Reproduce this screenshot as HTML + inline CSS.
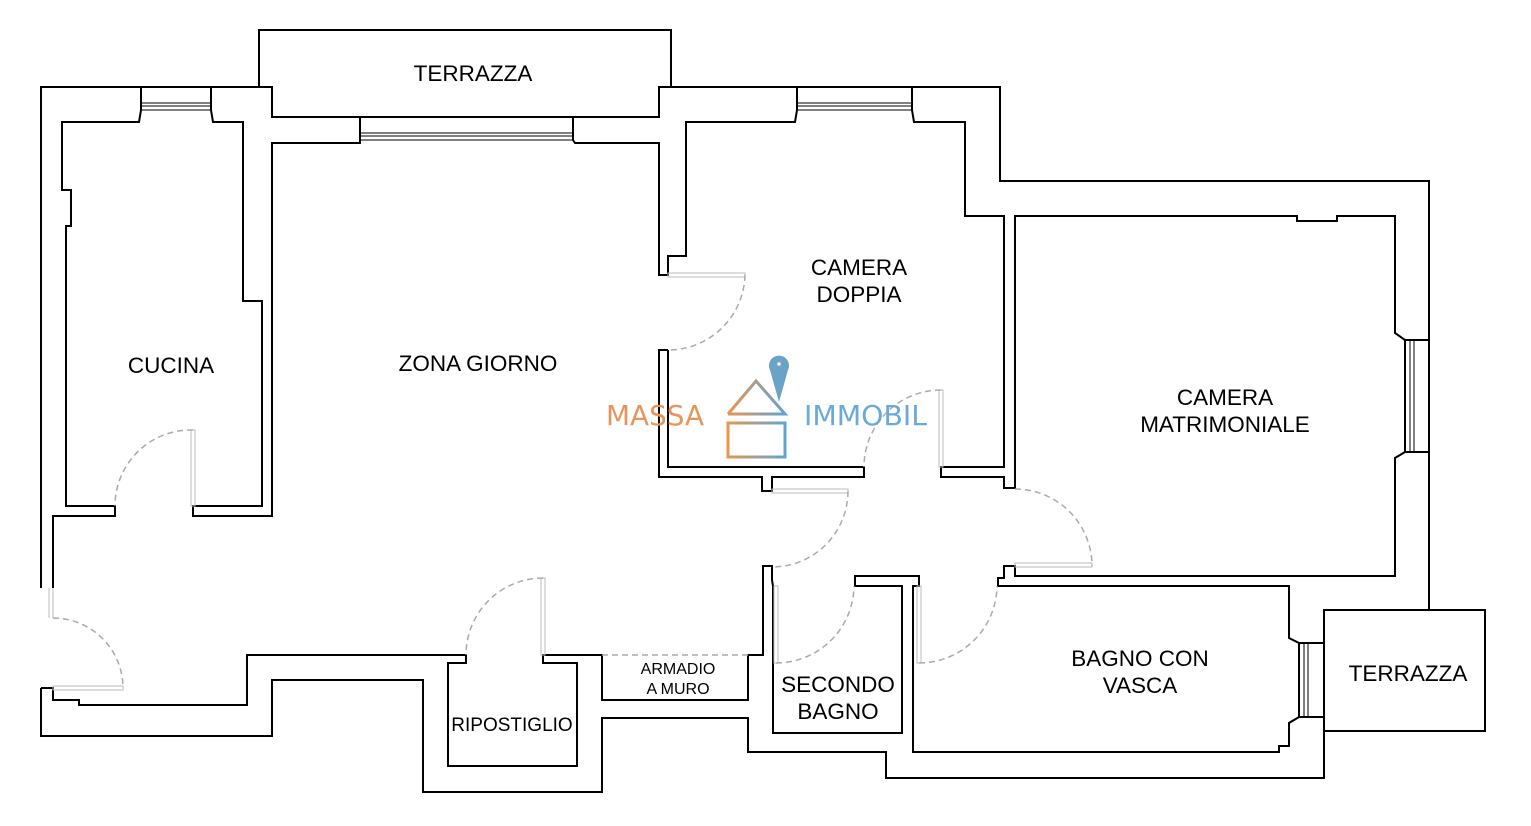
<!DOCTYPE html>
<html><head><meta charset="utf-8"><style>
html,body{margin:0;padding:0;background:#fff;}
svg{display:block;}
text{font-family:"Liberation Sans",sans-serif;fill:#000;}
</style></head><body>
<svg width="1531" height="826" viewBox="0 0 1531 826" xmlns="http://www.w3.org/2000/svg">
<defs>
<linearGradient id="g" x1="0" x2="1" y1="0" y2="0"><stop offset="0" stop-color="#e8954f"/><stop offset="1" stop-color="#5fa4d3"/></linearGradient>
</defs>
<g fill="none" stroke="#000" stroke-width="2">
<polyline points="259,87 259,30 671,30 671,87"/>
<polyline points="41,588 41,87 272,87 272,117 659,117 659,87 1000,87 1000,181 1429,181 1429,610"/>
<rect x="1324" y="610" width="161" height="121"/>
<polyline points="1324,731 1324,778 886,778 886,752 748,752 748,718 602,718 602,792 423,792 423,680 272,680 272,736 41,736 41,688"/>
<polyline points="141,87 141,110 139,122 62,122 62,190 71,190 71,226 66,226 66,506 115,506 115,516 53,516 53,588"/>
<polyline points="211,87 211,110 213,122 243,122 243,301 262,301 262,506 193,506 193,516 272,516 272,143 360,143 360,117"/>
<line x1="141" y1="103" x2="211" y2="103" stroke-width="1"/>
<line x1="141" y1="106" x2="211" y2="106" stroke-width="1"/>
<line x1="141" y1="110" x2="211" y2="110" stroke-width="1"/>
<polyline points="573,117 573,140 575,143 659,143 659,275 668,275 668,256 686,256 686,122 795,122 797,110 797,87"/>
<line x1="360" y1="133" x2="573" y2="133" stroke-width="1"/>
<line x1="360" y1="136" x2="573" y2="136" stroke-width="1"/>
<line x1="360" y1="140" x2="573" y2="140" stroke-width="1"/>
<polyline points="912,87 912,110 914,122 965,122 965,216 1004,216 1004,467 941,467 941,477 1004,477 1004,488 1015,488 1015,216 1297,216 1297,221 1337,221 1337,216 1395,216 1395,333 1405,340 1405,452 1395,458 1395,576 1015,576 1015,566 1004,566 1004,578 998,578 998,586 1289,586 1289,638 1299,643 1299,717 1289,723 1289,746 1279,746 1279,752 913,752 913,586 919,586 919,576 855,576 855,586 902,586 902,733 773,733 773,586 772,580 772,566 763,566 763,655 748,655 748,700 602,700 602,655 543,655 543,663 577,663 577,766 448,766 448,663 466,663 466,655 247,655 247,705 79,705 79,700 53,700 53,688 41,688"/>
<line x1="797" y1="103" x2="912" y2="103" stroke-width="1"/>
<line x1="797" y1="106" x2="912" y2="106" stroke-width="1"/>
<line x1="797" y1="110" x2="912" y2="110" stroke-width="1"/>
<line x1="1405" y1="340" x2="1429" y2="340"/>
<line x1="1405" y1="452" x2="1429" y2="452"/>
<line x1="1410" y1="340" x2="1410" y2="452" stroke-width="1"/>
<line x1="1414" y1="340" x2="1414" y2="452" stroke-width="1"/>
<line x1="1299" y1="643" x2="1324" y2="643"/>
<line x1="1299" y1="717" x2="1324" y2="717"/>
<line x1="1304" y1="643" x2="1304" y2="717" stroke-width="1"/>
<line x1="1308" y1="643" x2="1308" y2="717" stroke-width="1"/>
<polyline points="668,350 659,350 659,477 762,477 762,491 772,491 772,477 864,477 864,467 668,467 668,350"/>
</g>
<g fill="none" stroke="#bbb" stroke-width="1">
<rect x="191" y="430" width="4" height="76"/>
<rect x="53" y="686" width="70" height="4"/>
<rect x="668" y="273" width="77" height="4"/>
<rect x="939" y="390" width="4" height="77"/>
<rect x="772" y="489" width="76" height="4"/>
<rect x="1015" y="563" width="77" height="4"/>
<rect x="541" y="578" width="4" height="77"/>
<rect x="774" y="586" width="4" height="77"/>
<rect x="917" y="586" width="4" height="77"/>
<line x1="49" y1="588" x2="49" y2="618"/>
<line x1="53" y1="588" x2="53" y2="618"/>
</g>
<g fill="none" stroke="#aaa" stroke-width="1.5" stroke-dasharray="6,4">
<path d="M193,430 A76,76 0 0 0 115,506"/>
<path d="M53,618 A70,70 0 0 1 123,688"/>
<path d="M745,275 A77,77 0 0 1 668,350"/>
<path d="M941,390 A77,77 0 0 0 864,467"/>
<path d="M848,491 A76,76 0 0 1 772,567"/>
<path d="M1015,489 A77,77 0 0 1 1092,566"/>
<path d="M543,578 A77,77 0 0 0 466,655"/>
<path d="M776,663 A78,78 0 0 0 854,586"/>
<path d="M919,663 A78,78 0 0 0 997,586"/>
<line x1="602" y1="655" x2="748" y2="655"/>
</g>
<g>
<text x="606" y="425" font-size="28" style="fill:#e8955a;font-family:'DejaVu Sans',sans-serif;font-weight:normal" textLength="98" lengthAdjust="spacingAndGlyphs">MASSA</text>
<text x="804" y="425" font-size="28" style="fill:#6aaad8;font-family:'DejaVu Sans',sans-serif" textLength="123" lengthAdjust="spacingAndGlyphs">IMMOBIL</text>
<polyline points="728,414 756,381 785,414 728,414" fill="none" stroke="url(#g)" stroke-width="3"/>
<rect x="728" y="423" width="57" height="34" fill="none" stroke="url(#g)" stroke-width="3"/>
<path d="M779,402 L770,370 A10,10 0 1 1 788,370 Z" fill="#6aa3c6"/>
<circle cx="779" cy="364" r="1.8" fill="#fff"/>
</g>
<g font-size="22.5" text-anchor="middle">
<text x="473" y="81">TERRAZZA</text>
<text x="171" y="373">CUCINA</text>
<text x="478" y="371">ZONA GIORNO</text>
<text x="859" y="275">CAMERA</text>
<text x="859" y="302">DOPPIA</text>
<text x="1225" y="405">CAMERA</text>
<text x="1225" y="432">MATRIMONIALE</text>
<text x="1140" y="666">BAGNO CON</text>
<text x="1140" y="693">VASCA</text>
<text x="1408" y="681">TERRAZZA</text>
<text x="838" y="692">SECONDO</text>
<text x="838" y="719">BAGNO</text>
<text x="512" y="731" font-size="19">RIPOSTIGLIO</text>
<text x="678" y="674" font-size="16">ARMADIO</text>
<text x="678" y="694" font-size="16">A MURO</text>
</g>
</svg>
</body></html>
